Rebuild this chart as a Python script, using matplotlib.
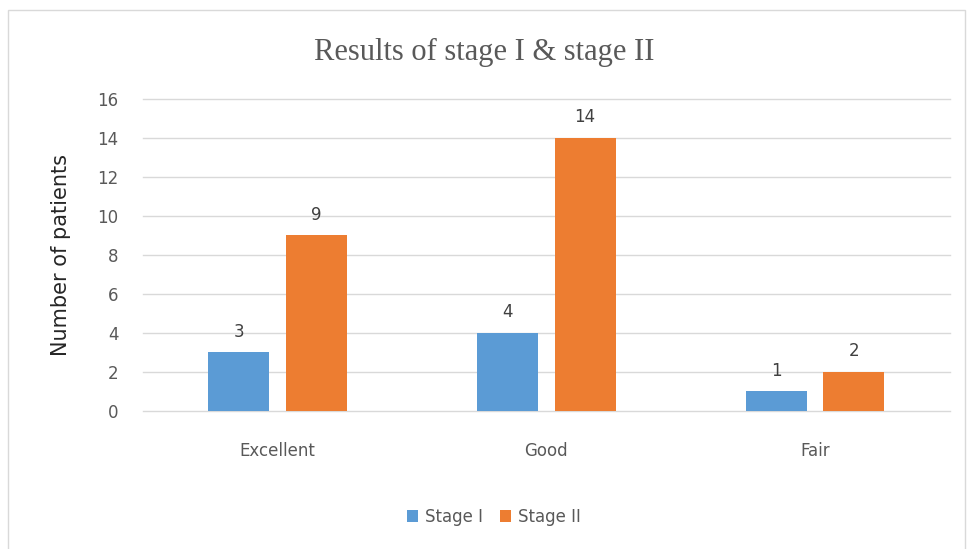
import numpy as np
import matplotlib.pyplot as plt
from matplotlib.patches import Rectangle

categories = ["Excellent", "Good", "Fair"]
stage1 = [3, 4, 1]
stage2 = [9, 14, 2]
yticks = [0, 2, 4, 6, 8, 10, 12, 14, 16]

BLUE = "#5B9BD5"
ORANGE = "#ED7D31"
GRAY = "#595959"

fig = plt.figure(figsize=(9.68, 5.49), dpi=100)
ax = fig.add_axes([0.148, 0.2514, 0.833, 0.5683])

x = np.arange(len(categories))
w = 0.227
b1 = ax.bar(x - 0.144, stage1, w, color=BLUE, label="Stage I")
b2 = ax.bar(x + 0.144, stage2, w, color=ORANGE, label="Stage II")

for bars in (b1, b2):
    for r in bars:
        ax.text(r.get_x() + r.get_width() / 2, r.get_height() + 0.6, str(int(r.get_height())),
                ha="center", va="bottom", fontsize=12, color="#404040")

ax.set_xlim(-0.5, 2.5)
ax.set_ylim(0, 16)
ax.set_yticks(yticks)
ax.set_xticks(x)
ax.set_xticklabels(categories)
ax.grid(axis="y", color="#d9d9d9", linewidth=1)
for gl in ax.get_ygridlines():
    gl.set_clip_on(False)
ax.set_axisbelow(True)
for s in ax.spines.values():
    s.set_visible(False)
ax.tick_params(axis="both", length=0, colors=GRAY, labelsize=12)
ax.tick_params(axis="y", pad=18)
ax.tick_params(axis="x", pad=22)

ax.set_ylabel("Number of patients", fontsize=15, color="#262626")
ax.yaxis.set_label_coords(-0.09, 0.5)

fig.text(0.5, 0.905, "Results of stage I & stage II", ha="center", va="center",
         fontsize=22, family="Liberation Serif", color="#595959")

fig.legend(handles=[b1, b2], loc="center", bbox_to_anchor=(0.51, 0.058), ncol=2,
           frameon=False, fontsize=12, handlelength=0.7, handleheight=0.7,
           columnspacing=1.0, handletextpad=0.4, labelcolor=GRAY)

fig.patches.append(Rectangle((8 / 968, -0.01), 957 / 968, 1 - 10 / 549 + 0.01,
                             transform=fig.transFigure, fill=False,
                             edgecolor="#d9d9d9", linewidth=1))

fig.savefig("out.png", dpi=100)
